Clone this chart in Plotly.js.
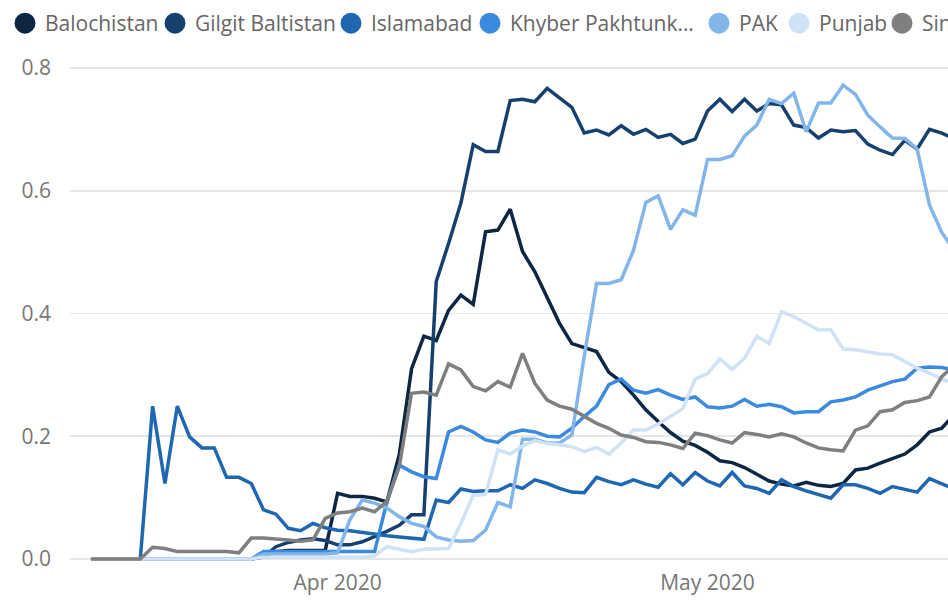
<!DOCTYPE html>
<html>
<head>
<meta charset="utf-8">
<script src="https://cdn.plot.ly/plotly-3.0.1.min.js"></script>
<style>
html,body{margin:0;padding:0;overflow:hidden;background:#fff;width:948px;height:601px;}
#chart{width:1400px;height:601px;}
</style>
</head>
<body>
<div id="chart"></div>
<script>
// Daily series, starting 2020-03-12
const startDate = '2020-03-12';
const seriesNames = ['Balochistan','Gilgit Baltistan','Islamabad','Khyber Pakhtunkhwa','PAK','Punjab','Sindh'];
const legendLabels = ['Balochistan','Gilgit Baltistan','Islamabad','Khyber Pakhtunk…','PAK','Punjab','Sindh'];
const xTickVals = ['2020-04-01','2020-05-01'];
const xTickText = ['Apr 2020','May 2020'];
const yTickVals = [0,0.2,0.4,0.6,0.8];

const balochistan = [0,0,0,0,0,0,0,0,0,0,0,0,0,0,
  0.005,0.012,0.014,0.014,0.014,0.014,0.107,0.102,0.102,0.099,0.093,0.17,0.31,0.363,0.356,0.405,
  0.430,0.415,0.533,0.536,0.570,0.501,0.468,0.425,0.384,0.351,0.345,0.338,0.304,0.289,0.267,0.243,
  0.224,0.206,0.192,0.185,0.174,0.160,0.157,0.149,0.138,0.127,0.122,0.119,0.125,0.120,0.118,0.123,
  0.145,0.148,0.156,0.164,0.171,0.186,0.207,0.213,0.235];
const gilgit = [0,0,0,0,0,0,0,0,0,0,0,0,0,0,
  0.003,0.020,0.027,0.031,0.033,0.030,0.023,0.023,0.028,0.036,0.045,0.055,0.072,0.072,0.452,0.514,
  0.580,0.675,0.664,0.664,0.747,0.749,0.745,0.767,0.751,0.736,0.694,0.699,0.691,0.706,0.692,0.700,
  0.687,0.692,0.677,0.684,0.730,0.749,0.729,0.749,0.730,0.742,0.740,0.707,0.703,0.686,0.699,0.696,
  0.698,0.676,0.666,0.659,0.682,0.668,0.700,0.694,0.685];
const islamabad = [0,0,0,0,0,
  0.249,0.123,0.249,0.199,0.181,0.181,0.133,0.133,0.123,0.080,0.073,0.050,0.046,0.058,0.051,
  0.047,0.046,0.043,0.040,0.038,0.036,0.034,0.032,0.096,0.092,0.114,0.110,0.111,0.111,0.121,
  0.115,0.129,0.123,0.115,0.109,0.108,0.133,0.126,0.121,0.129,0.122,0.117,0.139,0.121,0.141,
  0.127,0.119,0.141,0.119,0.115,0.107,0.129,0.118,0.111,0.105,0.099,0.121,0.121,0.115,0.107,
  0.118,0.114,0.109,0.131,0.122,0.114];
const khyber = [0,0,0,0,0,0,0,0,0,0,0,0,0,0,
  0.012,0.012,0.012,0.012,0.012,0.012,0.012,0.012,0.012,0.012,0.093,0.153,0.142,0.134,0.131,0.207,
  0.216,0.207,0.194,0.190,0.205,0.210,0.207,0.200,0.199,0.213,0.232,0.249,0.284,0.293,0.275,0.270,
  0.276,0.267,0.260,0.264,0.248,0.246,0.249,0.260,0.249,0.252,0.248,0.238,0.240,0.240,0.256,0.259,
  0.264,0.275,0.282,0.289,0.293,0.311,0.313,0.312,0.308];
const pak = [0,0,0,0,0,0,0,0,0,0,0,0,0,0,
  0.008,0.008,0.008,0.008,0.008,0.008,0.010,0.064,0.096,0.091,0.083,0.069,0.058,0.053,0.036,0.031,
  0.029,0.030,0.047,0.092,0.085,0.195,0.195,0.189,0.189,0.202,0.33,0.449,0.449,0.455,0.503,0.581,
  0.592,0.537,0.569,0.560,0.651,0.651,0.657,0.689,0.707,0.749,0.742,0.759,0.696,0.743,0.743,0.772,
  0.757,0.723,0.704,0.686,0.685,0.668,0.577,0.532,0.503];
const punjab = [0,0,0,0,0,0,0,0,0,0,0,0,0,0,
  0.003,0.003,0.003,0.003,0.003,0.003,0.003,0.003,0.003,0.005,0.020,0.016,0.012,0.016,0.017,0.017,
  0.058,0.104,0.105,0.178,0.171,0.184,0.193,0.188,0.186,0.183,0.175,0.182,0.171,0.189,0.210,0.210,
  0.220,0.233,0.245,0.293,0.302,0.326,0.309,0.327,0.363,0.351,0.403,0.395,0.384,0.373,0.374,0.342,
  0.341,0.338,0.334,0.333,0.322,0.311,0.303,0.293,0.286];
const sindh = [0,0,0,0,0,
  0.019,0.017,0.012,0.012,0.012,0.011,0.012,0.010,0.034,0.034,0.033,0.031,0.029,0.031,0.066,
  0.075,0.077,0.083,0.077,0.094,0.15,0.270,0.272,0.267,0.318,0.308,0.281,0.274,0.289,0.280,
  0.335,0.286,0.259,0.249,0.244,0.232,0.221,0.213,0.202,0.198,0.191,0.190,0.186,0.180,0.205,
  0.201,0.194,0.189,0.206,0.203,0.199,0.204,0.199,0.189,0.181,0.178,0.176,0.210,0.217,0.240,
  0.243,0.255,0.258,0.264,0.297,0.316];

const colors = ['#0c2644','#16416e','#1f67b1','#3b8ade','#82b5e9','#cfe2f6','#7f7f7f'];
const allSeries = [balochistan,gilgit,islamabad,khyber,pak,punjab,sindh];

function dayString(i){
  const d = new Date(startDate + 'T00:00:00Z');
  d.setUTCDate(d.getUTCDate() + i);
  return d.toISOString().slice(0,10);
}
const dates = balochistan.map((_, i) => dayString(i));

const FIG_W = 1400;
const legendLeftPx = [5, 155, 331, 470, 699, 779, 882];
const legendIds = allSeries.map((_, k) => k === 0 ? 'legend' : 'legend' + (k + 1));

const traces = [];
allSeries.forEach((ys, k) => {
  traces.push({
    type: 'scatter', mode: 'lines', name: seriesNames[k],
    x: dates, y: ys, showlegend: false,
    line: {color: colors[k], width: 3.5, shape: 'linear'},
    hoverinfo: 'x+y+name'
  });
});
allSeries.forEach((ys, k) => {
  traces.push({
    type: 'scatter', mode: 'markers', name: legendLabels[k],
    x: [null], y: [null], showlegend: true, legend: legendIds[k],
    marker: {color: colors[k], size: 16, symbol: 'circle', line: {color: colors[k], width: 5}},
    hoverinfo: 'skip'
  });
});

const fontFam = '"Segoe UI", "Open Sans", "Noto Sans", sans-serif';
const layout = {
  width: FIG_W, height: 601,
  margin: {l: 70, r: 100, t: 48, b: 36, pad: 0, autoexpand: false},
  paper_bgcolor: '#ffffff', plot_bgcolor: '#ffffff',
  font: {family: fontFam, color: '#777777'},
  showlegend: true,
  xaxis: {
    type: 'date',
    range: ['2020-03-10 07:12', '2020-06-18 01:12'],
    tickvals: xTickVals, ticktext: xTickText,
    showgrid: false, zeroline: false, showline: false,
    ticks: '', tickfont: {size: 21, color: '#777777'},
    ticklabelstandoff: 3
  },
  yaxis: {
    range: [-0.0098, 0.8326],
    tickvals: yTickVals, tickformat: '.1f',
    showgrid: true, gridcolor: '#e6e6e6', gridwidth: 1.5,
    zeroline: false, showline: false, ticks: '',
    tickfont: {size: 21, color: '#777777'},
    ticklabelstandoff: 18
  }
};
legendIds.forEach((id, k) => {
  layout[id] = {
    orientation: 'h', xref: 'container', yref: 'container',
    x: legendLeftPx[k] / FIG_W, y: 0.995, xanchor: 'left', yanchor: 'top',
    font: {size: 21, color: '#666666', family: fontFam},
    itemwidth: 30, bgcolor: 'rgba(0,0,0,0)', itemsizing: 'trace'
  };
});

Plotly.newPlot('chart', traces, layout, {displayModeBar: false, staticPlot: true});
</script>
</body>
</html>
